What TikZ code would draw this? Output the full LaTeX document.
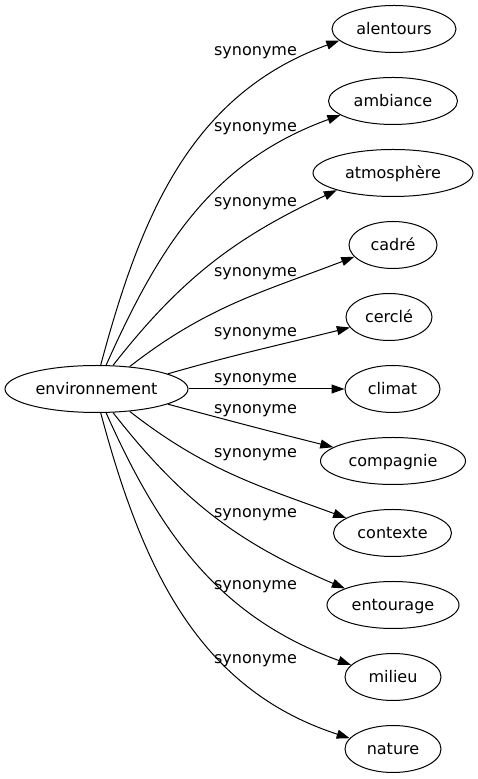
\documentclass[tikz,border=0pt]{standalone}
\usepackage{fontspec}
\setmainfont{DejaVu Sans}
\usetikzlibrary{shapes.geometric,arrows.meta}

\begin{document}
\begin{tikzpicture}[
  x=1pt, y=1pt,
  every node/.style={
    font=\fontsize{16pt}{19pt}\selectfont,
    text height=13pt,
    text depth=2pt,
  },
  word/.style={
    draw=black,
    line width=1pt,
    ellipse,
    inner sep=0pt,
    minimum height=47pt,
  },
  syn/.style={
    draw=black,
    line width=1pt,
    -{Triangle[length=13pt,width=9pt]},
  },
  synlabel/.style={
    inner sep=0pt,
  }
]
\useasboundingbox (0,0) rectangle (477,779);

\node[word,minimum width=183pt] (env) at (96.5,390) {environnement};

\node[word,minimum width=124pt] (w1) at (394,750) {alentours};
\node[word,minimum width=129pt] (w2) at (393,678) {ambiance};
\node[word,minimum width=160pt] (w3) at (393,606) {atmosphère};
\node[word,minimum width=88pt] (w4) at (393,534) {cadré};
\node[word,minimum width=86pt] (w5) at (389,462) {cerclé};
\node[word,minimum width=95pt] (w6) at (392.5,390) {climat};
\node[word,minimum width=145pt] (w7) at (393,318) {compagnie};
\node[word,minimum width=118pt] (w8) at (392.5,246) {contexte};
\node[word,minimum width=132pt] (w9) at (393,174) {entourage};
\node[word,minimum width=96pt] (w10) at (393,102) {milieu};
\node[word,minimum width=96pt] (w11) at (393,30) {nature};

\node[synlabel] (s1) at (255.5,729) {synonyme};
\node[synlabel] (s2) at (255.5,653) {synonyme};
\node[synlabel] (s3) at (255.5,578) {synonyme};
\node[synlabel] (s4) at (255.5,508) {synonyme};
\node[synlabel] (s5) at (255.5,448) {synonyme};
\node[synlabel] (s6) at (255.5,402) {synonyme};
\node[synlabel] (s7) at (255.5,371) {synonyme};
\node[synlabel] (s8) at (255.5,327) {synonyme};
\node[synlabel] (s9) at (255.5,267) {synonyme};
\node[synlabel] (s10) at (255.5,195) {synonyme};
\node[synlabel] (s11) at (255.5,121) {synonyme};

\draw[syn] (env.80) to[out=75,in=200] (w1.192);
\draw[syn] (env.68) to[out=66,in=200] (w2.195);
\draw[syn] (env.55) to[out=52,in=205] (w3.197);
\draw[syn] (env.34) to[out=38,in=201] (w4.197);
\draw[syn] (env.12) to[out=16,in=194] (w5.195);
\draw[syn] (env.east) -- (w6.west);
\draw[syn] (env.-12) to[out=-15,in=166] (w7.167);
\draw[syn] (env.-34) to[out=-38,in=160] (w8.162);
\draw[syn] (env.-55) to[out=-52,in=157] (w9.161);
\draw[syn] (env.-68) to[out=-66,in=160] (w10.164);
\draw[syn] (env.-80) to[out=-75,in=162] (w11.166);
\end{tikzpicture}
\end{document}
